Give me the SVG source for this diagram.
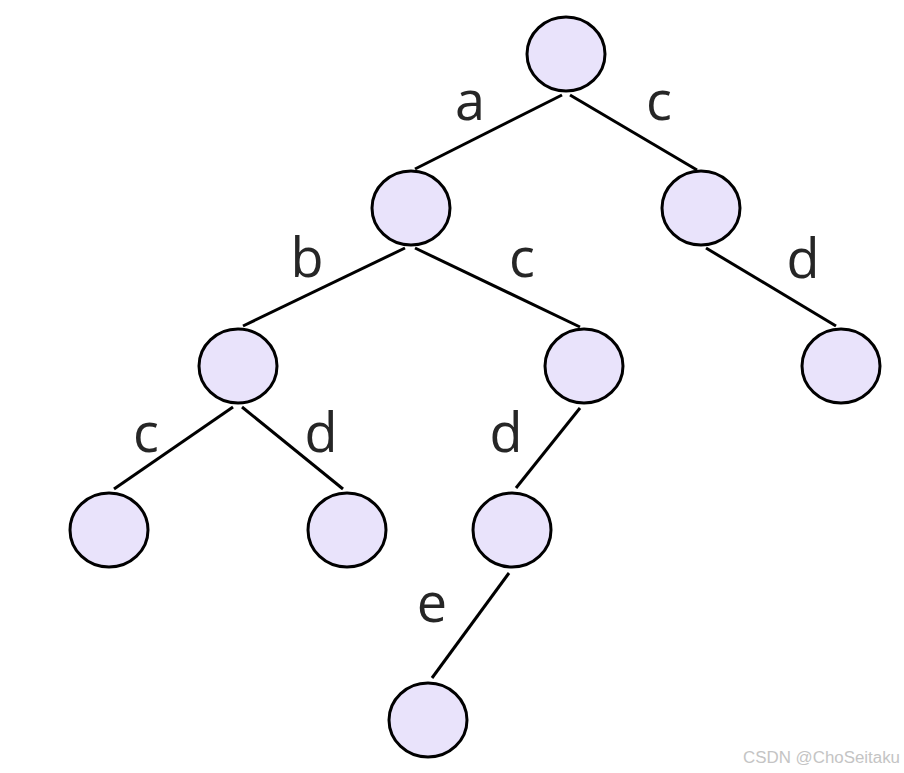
<svg xmlns="http://www.w3.org/2000/svg" width="904" height="773" viewBox="0 0 904 773">
<style>
.n{fill:#E9E3FB;stroke:#000;stroke-width:3}
.e{stroke:#000;stroke-width:3;fill:none}
.l{font-family:"Open Sans","Noto Sans",sans-serif;font-size:54px;fill:#262626;text-anchor:middle}
.w{font-family:"Liberation Sans",Arial,sans-serif;font-size:16px;fill:#c4c4c4}
</style>
<rect width="904" height="773" fill="#fff"/>
<g id="connectors">
<line class="e" x1="562" y1="95" x2="415" y2="169"/>
<line class="e" x1="570" y1="95" x2="697" y2="170"/>
<line class="e" x1="405" y1="248" x2="243" y2="326"/>
<line class="e" x1="415" y1="248" x2="580" y2="327"/>
<line class="e" x1="706" y1="248" x2="836" y2="326"/>
<line class="e" x1="233" y1="407" x2="114" y2="489"/>
<line class="e" x1="242" y1="407" x2="343" y2="489"/>
<line class="e" x1="580" y1="408" x2="516" y2="488"/>
<line class="e" x1="509" y1="573" x2="432" y2="678"/>
</g>
<g id="labels">
<text class="l" x="470" y="120">a</text>
<text class="l" x="659" y="120">c</text>
<text class="l" x="307" y="277">b</text>
<text class="l" x="522" y="277">c</text>
<text class="l" x="803" y="278">d</text>
<text class="l" x="146" y="452">c</text>
<text class="l" x="321" y="452">d</text>
<text class="l" x="506" y="452">d</text>
<text class="l" x="432" y="622">e</text>
</g>
<g id="root"><ellipse class="n" cx="566" cy="54" rx="39" ry="37"/></g>
<g id="n_a"><ellipse class="n" cx="411" cy="208" rx="39" ry="37"/></g>
<g id="n_c"><ellipse class="n" cx="701" cy="208" rx="39" ry="37"/></g>
<g id="n_ab"><ellipse class="n" cx="238" cy="366" rx="39" ry="37"/></g>
<g id="n_ac"><ellipse class="n" cx="584" cy="366" rx="39" ry="37"/></g>
<g id="n_cd"><ellipse class="n" cx="841" cy="366" rx="39" ry="37"/></g>
<g id="n_abc"><ellipse class="n" cx="109" cy="530" rx="39" ry="37"/></g>
<g id="n_abd"><ellipse class="n" cx="347" cy="530" rx="39" ry="37"/></g>
<g id="n_acd"><ellipse class="n" cx="512" cy="530" rx="39" ry="37"/></g>
<g id="n_acde"><ellipse class="n" cx="428" cy="720" rx="39" ry="37"/></g>
<text class="w" x="743" y="763" textLength="157" lengthAdjust="spacingAndGlyphs">CSDN @ChoSeitaku</text>
</svg>
